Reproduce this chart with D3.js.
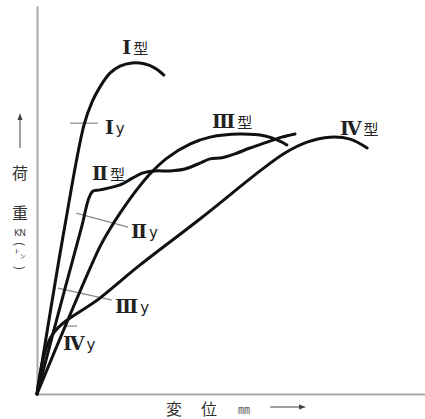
<!DOCTYPE html>
<html><head><meta charset="utf-8">
<script src="https://cdn.jsdelivr.net/npm/d3@7"></script>
<style>
html,body{margin:0;padding:0;background:#fff;}
svg{display:block;}
</style></head>
<body>
<script>
// ---- data (displacement, load), arbitrary units 0..100 ----
const typeI   = [[0,0],[7.0,42.3],[12.1,69.3],[14.2,75.3],[16.2,79.1],[18.8,82.7],[21.4,84.5],[24.5,85.3],[27.6,85.1],[30.4,84.0],[32.7,82.2]];
const typeII  = [[0,0],[11.3,42.3],[14.2,52.1],[16.2,52.6],[21.4,53.9],[24.7,55.7],[27.3,57.0],[30.4,57.5],[34.3,57.5],[38.1,58.0],[42.0,59.5],[44.6,60.6],[47.7,60.9],[51.0,61.9],[54.9,63.4],[59.3,64.9],[63.1,66.2],[66.5,67.0]];
const typeIII = [[0,0],[16.2,37.9],[18.8,42.5],[21.4,46.6],[25.3,52.1],[29.1,56.7],[33.5,60.8],[39.4,64.4],[44.6,66.2],[52.3,67.0],[58.8,66.5],[62.6,65.2],[64.4,64.2]];
const typeIV  = [[0,0],[3.9,15.2],[16.2,24.7],[26.5,33.2],[42.0,45.1],[57.5,57.5],[63.9,62.1],[69.6,64.9],[75.5,66.2],[80.7,65.7],[85.1,63.4]];

const seriesNumerals = ["Ⅰ","Ⅱ","Ⅲ","Ⅳ"];
const seriesSuffix = "型";
const seriesLabelAt = [[22.0,87.6],[14.2,55.2],[45.1,68.6],[78.1,66.8]];   // data coords of label (left, baseline)
const yieldSuffix = "y";
const yieldLines = [[[8.5,69.8],[15.7,69.8]],[[10.1,46.6],[23.5,43.0]],[[5.4,27.3],[19.3,24.2]],[[7.2,17.5],[10.3,17.5]]];
const yieldLabelAt = [[17.5,67.0],[24.2,40.2],[20.1,20.9],[6.7,11.3]];

const yLabelChars = ["荷","重"];
const yUnit = "KN";
const yUnitParts = ["(","㌧",")"];
const xLabelChars = ["変","位"];
const xUnit = "㎜";

// ---- drawing ----
const W = 425, H = 419;
const svg = d3.select("body").append("svg").attr("width", W).attr("height", H);
const x = d3.scaleLinear().domain([0,100]).range([37,425]);
const y = d3.scaleLinear().domain([0,100]).range([394,6]);

// axes (no ticks)
svg.append("g").attr("transform","translate(0,394)")
  .call(d3.axisBottom(x).tickValues([]).tickSizeOuter(0));
svg.append("g").attr("transform","translate(37,0)")
  .call(d3.axisLeft(y).tickValues([]).tickSizeOuter(0));
svg.selectAll(".domain").attr("stroke","#aaa").attr("stroke-width",2);

// yield markers
svg.append("g").selectAll("line").data(yieldLines).join("line")
  .attr("x1",d=>x(d[0][0])).attr("y1",d=>y(d[0][1]))
  .attr("x2",d=>x(d[1][0])).attr("y2",d=>y(d[1][1]))
  .attr("stroke","#888").attr("stroke-width",1.2);

// curves
const line = d3.line().x(d=>x(d[0])).y(d=>y(d[1])).curve(d3.curveCatmullRom.alpha(0.5));
svg.append("g").selectAll("path").data([typeI,typeII,typeIII,typeIV]).join("path")
  .attr("d",line).attr("fill","none").attr("stroke","#111")
  .attr("stroke-width",3).attr("stroke-linecap","round").attr("stroke-linejoin","round");

const serif = "'DejaVu Serif','Liberation Serif',serif";
const cjk = "'Noto Sans CJK JP',sans-serif";

const sl = svg.append("g").selectAll("text").data(seriesNumerals).join("text")
  .attr("x",(d,i)=>x(seriesLabelAt[i][0])).attr("y",(d,i)=>y(seriesLabelAt[i][1]))
  .attr("fill","#222");
sl.append("tspan").attr("font-family",serif).attr("font-weight","bold").attr("font-size",19).text(d=>d);
sl.append("tspan").attr("font-family",cjk).attr("font-size",15).attr("dx",2).text(seriesSuffix);

const yl = svg.append("g").selectAll("text").data(seriesNumerals).join("text")
  .attr("x",(d,i)=>x(yieldLabelAt[i][0])).attr("y",(d,i)=>y(yieldLabelAt[i][1]))
  .attr("fill","#222");
yl.append("tspan").attr("font-family",serif).attr("font-weight","bold").attr("font-size",19).text(d=>d);
yl.append("tspan").attr("font-family","'DejaVu Sans',sans-serif").attr("font-size",15).attr("dx",2).text(yieldSuffix);

// y label (vertical)
svg.append("line").attr("x1",20).attr("x2",20).attr("y1",148).attr("y2",117)
  .attr("stroke","#444").attr("stroke-width",1);
svg.append("path").attr("d","M20,113 L17.5,120 L22.5,120 Z").attr("fill","#444");
svg.selectAll(".ylab").data(yLabelChars).join("text").attr("class","ylab")
  .attr("x",20).attr("y",(d,i)=>179+i*40).attr("text-anchor","middle")
  .attr("font-family",cjk).attr("font-size",16).attr("fill","#333").text(d=>d);
svg.append("text").attr("x",20).attr("y",236).attr("text-anchor","middle")
  .attr("font-family","'DejaVu Sans',sans-serif").attr("font-size",9).attr("fill","#444")
  .attr("textLength",12).text(yUnit);
svg.selectAll(".yunit").data(yUnitParts).join("text").attr("class","yunit")
  .attr("transform",(d,i)=>i===1?"translate(20,258)":`translate(20,${i===0?244:268}) rotate(90)`)
  .attr("text-anchor","middle").attr("dominant-baseline",(d,i)=>i===1?"auto":"central")
  .attr("font-family",cjk).attr("font-size",(d,i)=>i===1?11:12).attr("fill","#444").text(d=>d);

// x label
svg.selectAll(".xlab").data(xLabelChars).join("text").attr("class","xlab")
  .attr("x",(d,i)=>174+i*35).attr("y",415).attr("text-anchor","middle")
  .attr("font-family",cjk).attr("font-size",16).attr("fill","#333").text(d=>d);
svg.append("text").attr("x",244).attr("y",414).attr("text-anchor","middle")
  .attr("font-family",cjk).attr("font-size",12).attr("fill","#555").text(xUnit);
svg.append("line").attr("x1",270).attr("x2",301).attr("y1",407).attr("y2",407)
  .attr("stroke","#444").attr("stroke-width",1);
svg.append("path").attr("d","M306,407 L299,404.5 L299,409.5 Z").attr("fill","#444");
</script>
</body></html>
